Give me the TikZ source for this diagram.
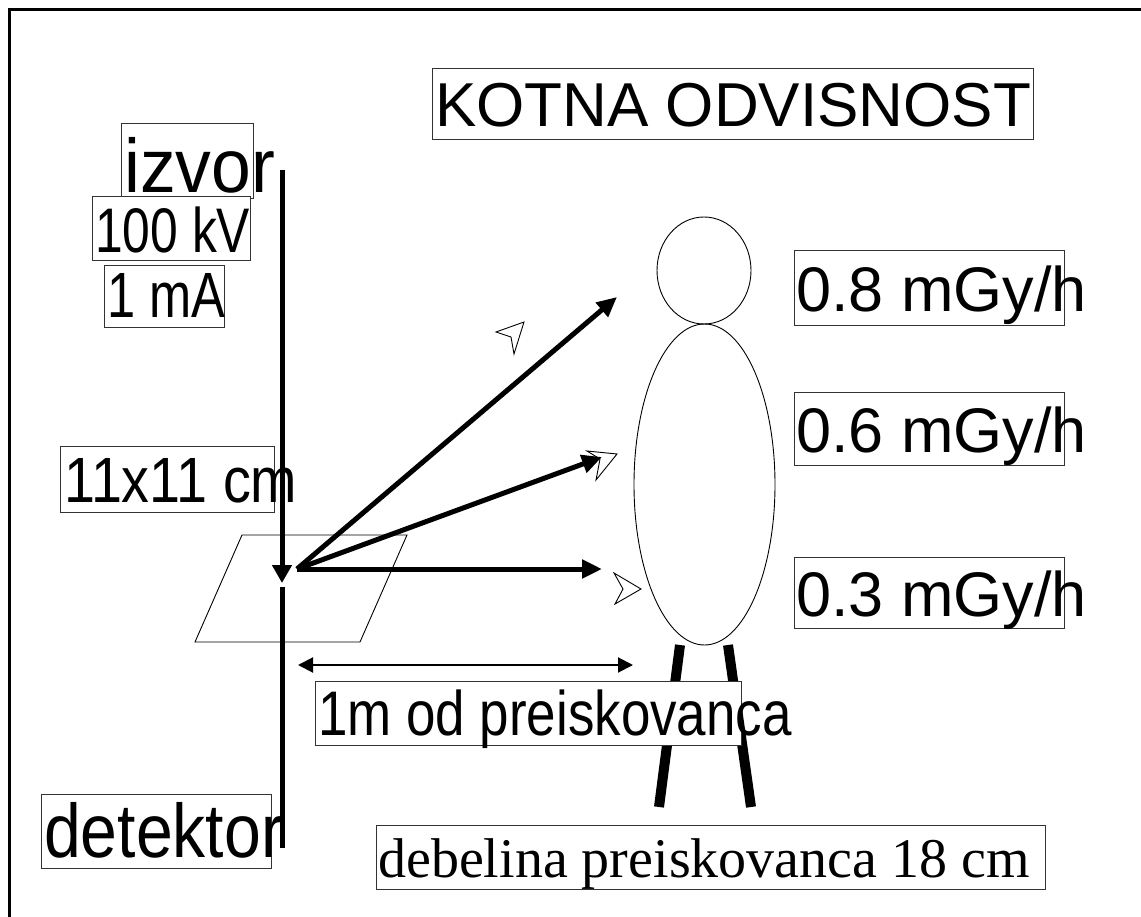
\documentclass[tikz,border=0pt]{standalone}
\usepackage{fontspec}
\setmainfont{Liberation Sans}
\newfontfamily\seriffont{Liberation Serif}
\newfontfamily\narrowA[FakeStretch=0.79]{Liberation Sans}
\newfontfamily\narrowB[FakeStretch=0.84]{Liberation Sans}
\newfontfamily\narrowD[FakeStretch=0.87]{Liberation Sans}
\newfontfamily\narrowC[FakeStretch=0.94]{Liberation Sans}
\usetikzlibrary{arrows.meta,shapes.geometric}
\newcommand{\fsz}[1]{\fontsize{#1}{#1}\selectfont}
\begin{document}
\begin{tikzpicture}[x=1pt,y=-1pt,
  lbox/.style={draw=black!80, line width=0.9pt, fill=white, inner sep=0pt, anchor=north west},
  lbl/.style={anchor=base west, inner sep=0pt},
  beam/.style={line width=5pt, -{Triangle[length=20pt,width=18pt]}},
  openhead/.style={draw, line width=0.9pt, line join=miter},
  thin/.style={line width=0.9pt},
]
\useasboundingbox (0,0) rectangle (1141,917);

% outer frame
\draw[line width=3pt] (9.5,917) -- (9.5,9.5) -- (1141,9.5);

% irradiated field
\draw[thin] (242,535) -- (407,535) -- (360,642) -- (195,642) -- cycle;

% legs of the phantom
\coordinate (lhip) at (680,645); \coordinate (lfoot) at (659,807);
\coordinate (rhip) at (728,645); \coordinate (rfoot) at (751,807);
\draw[line width=10pt] (lhip) -- (lfoot);
\draw[line width=10pt] (rhip) -- (rfoot);

% head and body
\node[draw, thin, ellipse, minimum width=94pt, minimum height=107pt, inner sep=0pt] (head) at (704,270.5) {};
\node[draw, thin, ellipse, minimum width=141pt, minimum height=321pt, inner sep=0pt] (body) at (704.5,484.5) {};

% label frames
\node[lbox, minimum width=601pt, minimum height=71pt] (titlebox) at (432,68) {};
\node[lbox, minimum width=132pt, minimum height=75pt] (izvorbox) at (121,123) {};
\node[lbox, minimum width=158pt, minimum height=64pt] (kvbox) at (92,196) {};
\node[lbox, minimum width=120pt, minimum height=62pt] (mabox) at (104,265) {};
\node[lbox, minimum width=214pt, minimum height=66pt] (fieldbox) at (60,446) {};
\node[lbox, minimum width=230pt, minimum height=74pt] (detbox) at (41,794) {};
\node[lbox, minimum width=270pt, minimum height=75pt] (d8box) at (794,250) {};
\node[lbox, minimum width=270pt, minimum height=73pt] (d6box) at (794,392) {};
\node[lbox, minimum width=270pt, minimum height=71pt] (d3box) at (794,557) {};
\node[lbox, minimum width=426pt, minimum height=64pt] (distbox) at (315,681) {};
\node[lbox, minimum width=669pt, minimum height=64pt] (thickbox) at (376,825) {};

% label texts
\node[lbl, font=\fsz{62}] (title) at (435,127) {KOTNA ODVISNOST};
\node[lbl, font=\narrowC\fsz{76}] (izvor) at (124,193) {izvor};
\node[lbl, font=\narrowA\fsz{63}] (kv) at (95,253) {100 kV};
\node[lbl, font=\narrowA\fsz{64}] (ma) at (107,318) {1 mA};
\node[lbl, font=\narrowD\fsz{64}] (field) at (64,502) {11x11 cm};
\node[lbl, font=\narrowD\fsz{76}] (det) at (44,857) {detektor};
\node[lbl, font=\fsz{63}] (d8) at (796,312) {0.8 mGy/h};
\node[lbl, font=\fsz{63}] (d6) at (796,452) {0.6 mGy/h};
\node[lbl, font=\fsz{63}] (d3) at (796,616) {0.3 mGy/h};
\node[lbl, font=\narrowB\fsz{63}] (dist) at (318,735) {1m od preiskovanca};
\node[lbl, font=\seriffont\fsz{56}] (thick) at (378,877) {debelina preiskovanca 18 cm};

% primary beam: source to field, then on to the detector
\coordinate (src) at (282,170);
\coordinate (srctip) at (282,583);
\coordinate (detin) at (282,587);
\coordinate (detend) at (282,848);
\draw[line width=5pt, -{Triangle[length=18pt,width=19pt]}] (src) -- (srctip);
\draw[line width=5pt] (detin) -- (detend);

% scattered radiation towards the phantom
\coordinate (scat) at (297,569);
\coordinate (tipa) at (617,297);
\coordinate (tipb) at (602,457);
\coordinate (tipc) at (602,569);
\draw[beam] (scat) -- (tipa);
\draw[beam] (scat) -- (tipb);
\draw[beam] (scat) -- (tipc);

% open arrowheads
\draw[openhead] (496,332) -- (524,322) -- (514,354) -- (511,337) -- cycle;
\draw[openhead] (587,451) -- (617,454) -- (596,480) -- (600,459) -- cycle;
\draw[openhead] (614,573) -- (641,589) -- (615,604) -- (623,589) -- cycle;

% distance to the phantom
\coordinate (dl) at (298,665);
\coordinate (dr) at (633,665);
\draw[line width=2pt, {Triangle[length=15pt,width=15pt]}-{Triangle[length=15pt,width=15pt]}] (dl) -- (dr);
\end{tikzpicture}
\end{document}
